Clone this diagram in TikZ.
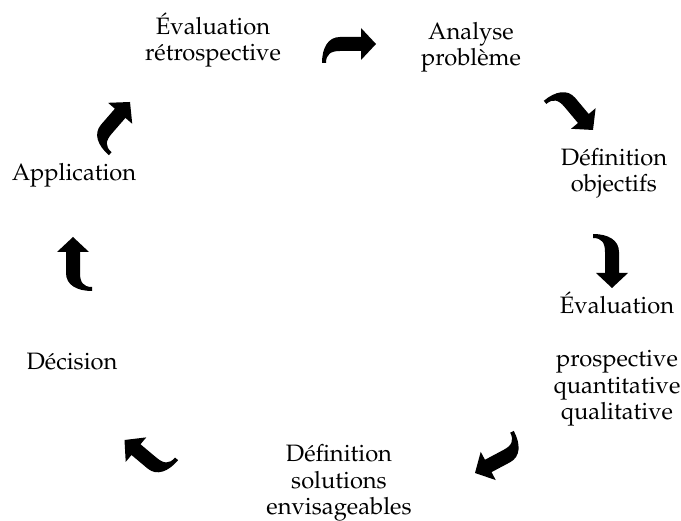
\documentclass[tikz,border=0pt]{standalone}
\usepackage[T1]{fontenc}
\usepackage{mathpazo}
\usetikzlibrary{positioning}

\tikzset{
  stage/.style={align=center, inner sep=0pt, anchor=base,
    font=\fontsize{23.7pt}{26.8pt}\selectfont},
  bentarrow/.pic={
    \fill (0,0) -- (-15,16) -- (-15,7) -- (-36,7)
      .. controls (-48,7) and (-54,-4) .. (-54,-19) -- (-50,-19)
      .. controls (-50,-10) and (-45,-7) .. (-36,-7) -- (-15,-7)
      -- (-15,-16) -- cycle;
  }
}

\begin{document}
\begin{tikzpicture}[x=1pt, y=1pt]

  \useasboundingbox (0,0) rectangle (681,521);

  % stages of the cycle (base = last line)
  \node[stage] (retro) at (213,460) {Évaluation\\rétrospective};
  \node[stage] (analyse) at (471,455) {Analyse\\problème};
  \node[stage] (objectifs) at (614,329) {Définition\\objectifs};
  \node[stage] (prospective) at (617,101) {Évaluation\\[26pt]prospective\\quantitative\\qualitative};
  \node[stage] (solutions) at (339,6) {Définition\\solutions\\envisageables};
  \node[stage] (decision) at (72,151) {Décision};
  \node[stage] (application) at (74,340) {Application};

  % bent arrows between stages
  \pic[rotate=0] at (376,477) {bentarrow};
  \pic[rotate=-50] at (593,391) {bentarrow};
  \pic[rotate=-90] at (612,233) {bentarrow};
  \pic[rotate=-152] at (475,48) {bentarrow};
  \pic[rotate=140] at (124.5,81) {bentarrow};
  \pic[rotate=90] at (73,284) {bentarrow};
  \pic[rotate=49] at (130,419) {bentarrow};

\end{tikzpicture}
\end{document}
